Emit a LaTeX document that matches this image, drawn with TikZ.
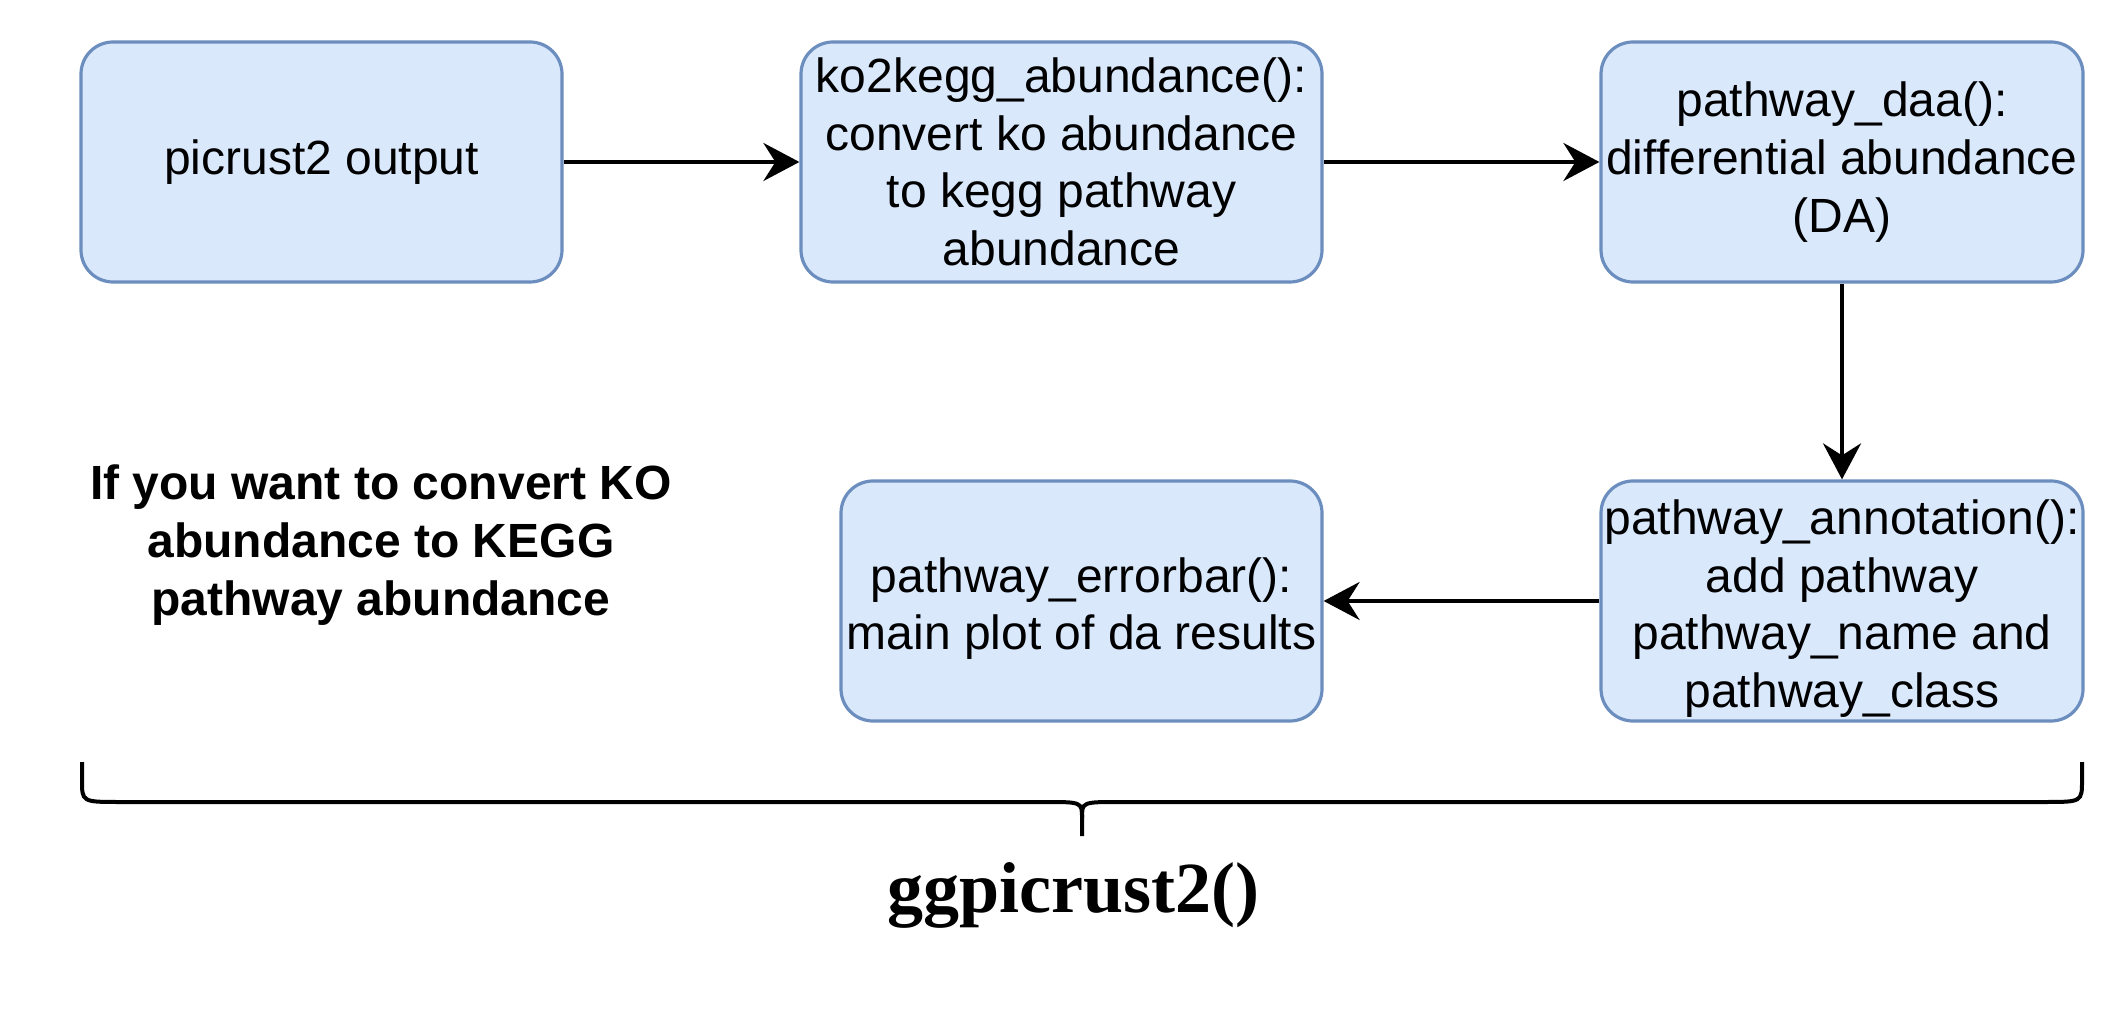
\documentclass[tikz,border=0pt]{standalone}
\usepackage{fontspec}
\setmainfont{Liberation Sans}
\newfontfamily\titlefont{Liberation Serif}
\usetikzlibrary{arrows.meta,calc}
\definecolor{boxfill}{HTML}{DAE8FC}
\definecolor{boxline}{HTML}{6C8EBF}
\newcommand{\lowtop}{\rule{0pt}{25pt}}

\begin{document}
\begin{tikzpicture}[x=0.5pt, y=-0.5pt, >={Stealth[length=18pt,width=19pt,inset=6pt]},
  box/.style={draw=boxline, fill=boxfill, line width=1.6pt, rounded corners=16pt,
    minimum height=120pt, inner sep=0pt, align=center, font=\fontsize{24}{28.8}\selectfont},
  flow/.style={->, line width=1.9pt}]

\useasboundingbox (0,0) rectangle (2124,1036);

\node[box, minimum width=240.5pt] at (321.5, 162) (pic) {picrust2 output};
\node[box, minimum width=260.5pt] at (1061.5, 162) (ko) {ko2kegg\_abundance():\\convert ko abundance\\to kegg pathway\\abundance};
\node[box, minimum width=241pt] at (1842, 162) (daa) {pathway\_daa():\\differential abundance\\(DA)};
\node[box, minimum width=241pt] at (1842, 601) (annot) {\lowtop pathway\_annotation():\\add pathway\\pathway\_name and\\pathway\_class};
\node[box, minimum width=240.5pt] at (1081.5, 601) (err) {\lowtop pathway\_errorbar():\\main plot of da results};

\node[align=center, font=\fontsize{24}{28.8}\selectfont\bfseries] at (381, 545) (note)
  {If you want to convert KO\\abundance to KEGG\\pathway abundance};

    \draw [flow] (pic.east) -- (ko.west);
    \draw [flow] (ko.east) -- (daa.west);
    \draw [flow] (daa.south) -- (annot.north);
    \draw [flow] (annot.west) -- (err.east);

% brace under the steps
\coordinate (bl) at (82, 762);
\coordinate (br) at (2082, 762);
\coordinate (bm) at (1082, 836);
\draw [line width=2pt] (bl) -- ($(bl)+(0,18)$) .. controls ($(bl)+(0,40)$) .. ($(bl)+(38,40)$)
  -- ($(bm)+(-38,-34)$) .. controls ($(bm)+(0,-34)$) .. ($(bm)+(0,-18)$) -- (bm);
\draw [line width=2pt] (br) -- ($(br)+(0,18)$) .. controls ($(br)+(0,40)$) .. ($(br)+(-38,40)$)
  -- ($(bm)+(38,-34)$) .. controls ($(bm)+(0,-34)$) .. ($(bm)+(0,-18)$);

\node [font=\titlefont\fontsize{36}{40}\selectfont\bfseries] at (1073, 895) (gg) {ggpicrust2()};
\end{tikzpicture}
\end{document}
